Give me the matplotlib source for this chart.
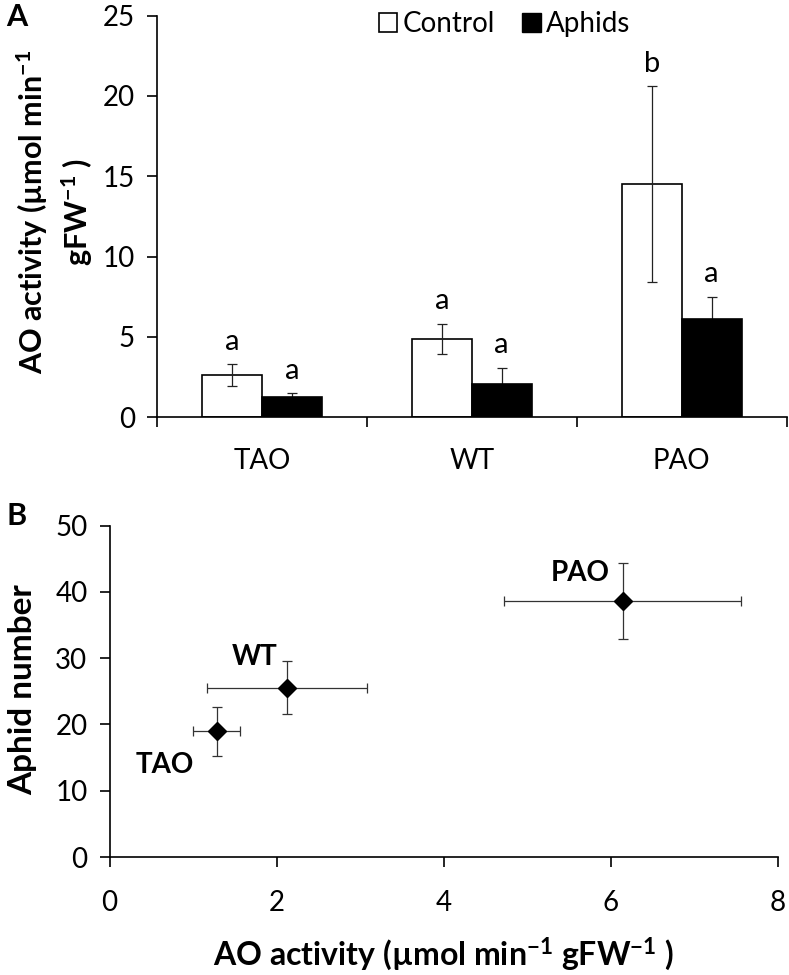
import numpy as np
import matplotlib
matplotlib.use("Agg")
import matplotlib.pyplot as plt
from matplotlib.patches import Patch

plt.rcParams.update({
    'font.family': ['Lato', 'DejaVu Sans'],
    'mathtext.fontset': 'custom',
    'mathtext.rm': 'Lato:bold',
    'mathtext.default': 'rm',
    'axes.linewidth': 1.2,
})

# Панель A: активность AO
genotypes = ["TAO", "WT", "PAO"]
control_mean = [2.62, 4.86, 14.5]
control_err = [0.67, 0.95, 6.1]
aphid_mean = [1.25, 2.06, 6.1]
aphid_err = [0.25, 1.0, 1.4]
control_letters = ["a", "a", "b"]
aphid_letters = ["a", "a", "a"]

# Панель B: число тлей vs активность AO
ao_activity = [1.28, 2.12, 6.14]
ao_activity_err = [0.28, 0.96, 1.42]
aphid_number = [19.0, 25.5, 38.6]
aphid_number_err = [3.7, 4.0, 5.7]
point_labels = ["TAO", "WT", "PAO"]
label_pos = [(0.66, 13.9), (1.74, 30.2), (5.63, 42.8)]

TICK_FS = 20

fig = plt.figure(figsize=(7.89, 9.75), dpi=100)

# ---- A ----
ax1 = fig.add_axes([0.199, 0.572, 0.798, 0.412])
x = np.arange(len(genotypes))
w = 0.285
ax1.bar(x - w, control_mean, w, align='edge', color='white', edgecolor='black',
        linewidth=1.2, zorder=2)
ax1.bar(x, aphid_mean, w, align='edge', color='black', edgecolor='black',
        linewidth=1.2, zorder=2)
ax1.errorbar(x - w / 2, control_mean, yerr=control_err, fmt='none', ecolor='#222',
             elinewidth=0.9, capsize=3.5, capthick=0.9, zorder=3)
ax1.errorbar(x + w / 2, aphid_mean, yerr=aphid_err, fmt='none', ecolor='#222',
             elinewidth=0.9, capsize=3.5, capthick=0.9, zorder=1)
for i in range(len(genotypes)):
    ax1.text(x[i] - w / 2, control_mean[i] + control_err[i] + 0.6, control_letters[i],
             ha='center', va='bottom', fontsize=21)
    ax1.text(x[i] + w / 2, aphid_mean[i] + aphid_err[i] + 0.6, aphid_letters[i],
             ha='center', va='bottom', fontsize=21)

ax1.set_xlim(-0.5, 2.5)
ax1.set_ylim(0, 25)
ax1.set_yticks([0, 5, 10, 15, 20, 25])
ax1.set_xticks(x)
ax1.set_xticklabels(genotypes)
ax1.set_xticks(np.arange(-0.5, 3.0, 1.0), minor=True)
ax1.tick_params(axis='x', which='major', length=0, pad=22, labelsize=TICK_FS)
ax1.tick_params(axis='x', which='minor', length=7, width=1.2, direction='out')
ax1.tick_params(axis='y', length=7, width=1.2, pad=9, labelsize=TICK_FS)
for s in ['top', 'right']:
    ax1.spines[s].set_visible(False)
ax1.set_ylabel('AO activity (µmol min$^{-1}$\ngFW$^{-1}$ )', fontsize=22,
               fontweight='bold', linespacing=1.35)
ax1.yaxis.set_label_coords(-0.098, 0.51)

handles = [Patch(facecolor='white', edgecolor='black', linewidth=1.2),
           Patch(facecolor='black', edgecolor='black')]
ax1.legend(handles, ['Control', 'Aphids'], loc='center', bbox_to_anchor=(0.552, 0.978),
           ncol=2, frameon=False, fontsize=20, handlelength=0.65, handleheight=0.65,
           handletextpad=0.2, columnspacing=1.0, borderaxespad=0)

fig.text(0.008, 0.997, 'A', fontsize=22, fontweight='bold', ha='left', va='top')

# ---- B ----
ax2 = fig.add_axes([0.139, 0.121, 0.847, 0.340])
ax2.errorbar(ao_activity, aphid_number, xerr=ao_activity_err, yerr=aphid_number_err,
             fmt='D', color='black', markersize=9, ecolor='#333', elinewidth=0.9,
             capsize=3.5, capthick=0.9)
for lab, (px, py) in zip(point_labels, label_pos):
    ax2.text(px, py, lab, ha='center', va='center', fontsize=20, fontweight='bold')
ax2.set_xlim(0, 8)
ax2.set_ylim(0, 50)
ax2.set_xticks([0, 2, 4, 6, 8])
ax2.set_yticks([0, 10, 20, 30, 40, 50])
ax2.tick_params(axis='x', length=7, width=1.2, pad=17, labelsize=TICK_FS)
ax2.tick_params(axis='y', length=7, width=1.2, pad=9, labelsize=TICK_FS)
for s in ['top', 'right']:
    ax2.spines[s].set_visible(False)
ax2.set_xlabel('AO activity (µmol min$^{-1}$ gFW$^{-1}$ )', fontsize=23,
               fontweight='bold', labelpad=14)
ax2.set_ylabel('Aphid number', fontsize=24, fontweight='bold')
ax2.yaxis.set_label_coords(-0.108, 0.505)

fig.text(0.008, 0.485, 'B', fontsize=22, fontweight='bold', ha='left', va='top')

fig.savefig('out.png', dpi=100)
